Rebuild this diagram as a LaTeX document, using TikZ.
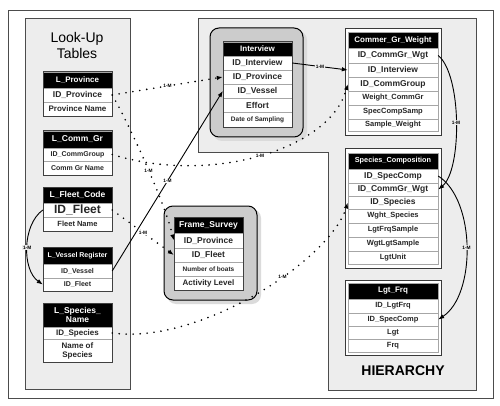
\documentclass[tikz,border=0pt]{standalone}
\usepackage{fontspec}
\setmainfont{Liberation Sans}
\usetikzlibrary{arrows.meta}
\newcommand\fsz[1]{\fontsize{#1}{#1}\selectfont}
\begin{document}
\begin{tikzpicture}[x=1pt,y=-1pt,
  panel/.style={fill=gray!14,draw=gray!60!black,line width=0.6pt},
  hd/.style={fill=black,draw=gray!70,text=white,inner sep=0pt,font=\bfseries\fsz{8}},
  cl/.style={fill=white,draw=gray!70,inner sep=0pt,text=black!85,font=\bfseries\fsz{7.5}},
  lw/.style={minimum width=69pt},
  rw/.style={minimum width=90pt},
  tbord/.style={draw=gray!50!black,line width=0.6pt},
  rframe/.style={draw=gray!45!black,line width=0.9pt,fill=white},
  grp/.style={fill=gray!40,draw=black,line width=1pt,rounded corners=9pt},
  shd/.style={fill=gray!28,rounded corners=9pt},
  dots/.style={line width=1.8pt,dash pattern=on 0pt off 7pt,line cap=round},
  sol/.style={line width=0.9pt},
  tip/.style={-{Latex[length=6pt,width=4.5pt]}},
  lab/.style={font=\bfseries\fsz{4.8},inner sep=0.6pt,text=black}
]
\useasboundingbox (0,0) rectangle (500,406);
% outer frame
\draw[draw=gray!60!black,line width=0.7pt] (8,10) rectangle (493,398);
% panels
\draw[panel] (25,18) rectangle (130,389);
\draw[panel] (198,18) -- (476,18) -- (476,390) -- (328,390) -- (328,152) -- (198,152) -- cycle;
\node[font=\fsz{14},align=center,inner sep=0pt] (lut) at (77,45) {Look-Up\\[2pt]Tables};
\node[font=\bfseries\fsz{14},inner sep=0pt] (hier) at (403,371) {HIERARCHY};

% group boxes
\fill[shd] (213,31) rectangle (307,141);
\draw[grp] (210,28) rectangle (303,137);
\fill[shd] (167,209) rectangle (261,304);
\draw[grp] (164,206) rectangle (257,300);

% ---- left tables ----
\node[hd,lw,minimum height=16pt] (lph) at (77.5,80) {L\_Province};
\node[cl,lw,minimum height=14pt,font=\bfseries\fsz{8.5}] (lpid) at (77.5,95) {ID\_Province};
\node[cl,lw,minimum height=14pt,font=\bfseries\fsz{8}] (lpnm) at (77.5,109) {Province Name};
\draw[tbord] (lph.north west) rectangle (lpnm.south east);

\node[hd,lw,minimum height=17pt,font=\bfseries\fsz{8.5}] (lch) at (77.5,139.5) {L\_Comm\_Gr};
\node[cl,lw,minimum height=13pt,font=\bfseries\fsz{7}] (lcgid) at (77.5,154.5) {ID\_CommGroup};
\node[cl,lw,minimum height=14pt,font=\bfseries\fsz{7}] (lcgnm) at (77.5,168) {Comm Gr Name};
\draw[tbord] (lch.north west) rectangle (lcgnm.south east);

\node[hd,lw,minimum height=16pt,font=\bfseries\fsz{8.5}] (lfh) at (77.5,195) {L\_Fleet\_Code};
\node[cl,lw,minimum height=14pt,font=\bfseries\fsz{12}] (lfid) at (77.5,210) {ID\_Fleet};
\node[cl,lw,minimum height=14pt,font=\bfseries\fsz{7.5}] (lfnm) at (77.5,224) {Fleet Name};
\draw[tbord] (lfh.north west) rectangle (lfnm.south east);

\node[hd,lw,minimum height=17pt,font=\bfseries\fsz{7}] (lvh) at (77.5,255.5) {L\_Vessel Register};
\node[cl,lw,minimum height=14pt,font=\bfseries\fsz{7}] (lvves) at (77.5,271) {ID\_Vessel};
\node[cl,lw,minimum height=13pt,font=\bfseries\fsz{7}] (lvfleet) at (77.5,284.5) {ID\_Fleet};
\draw[tbord] (lvh.north west) rectangle (lvfleet.south east);

\node[hd,lw,minimum height=24pt,align=center,font=\bfseries\fsz{8.5}] (lsh) at (77.5,315) {L\_Species\_\\[1pt]Name};
\node[cl,lw,minimum height=12pt,font=\bfseries\fsz{8}] (lsid) at (77.5,333) {ID\_Species};
\node[cl,lw,minimum height=23pt,align=center,font=\bfseries\fsz{8}] (lsnm) at (77.5,350.5) {Name of\\[1pt]Species};
\draw[tbord] (lsh.north west) rectangle (lsnm.south east);

% ---- Interview ----
\node[hd,lw,minimum height=14pt] (ivh) at (257.5,49) {Interview};
\node[cl,lw,minimum height=14pt,font=\bfseries\fsz{8.5}] (ivid) at (257.5,63) {ID\_Interview};
\node[cl,lw,minimum height=14pt,font=\bfseries\fsz{8.5}] (ivprov) at (257.5,77) {ID\_Province};
\node[cl,lw,minimum height=14pt,font=\bfseries\fsz{8.5}] (ivves) at (257.5,91) {ID\_Vessel};
\node[cl,lw,minimum height=14pt,font=\bfseries\fsz{8.5}] (iveff) at (257.5,105) {Effort};
\node[cl,lw,minimum height=15pt,font=\bfseries\fsz{6.5}] (ivdate) at (257.5,119.5) {Date of Sampling};
\draw[tbord] (ivh.north west) rectangle (ivdate.south east);

% ---- Frame_Survey ----
\node[hd,lw,minimum height=16pt,font=\bfseries\fsz{8.5}] (fsh) at (208.5,225) {Frame\_Survey};
\node[cl,lw,minimum height=15pt,font=\bfseries\fsz{8.5}] (fsprov) at (208.5,240.5) {ID\_Province};
\node[cl,lw,minimum height=14pt,font=\bfseries\fsz{8.5}] (fsfleet) at (208.5,255) {ID\_Fleet};
\node[cl,lw,minimum height=14pt,font=\bfseries\fsz{6.5}] (fsnum) at (208.5,269) {Number of boats};
\node[cl,lw,minimum height=14pt,font=\bfseries\fsz{8}] (fsact) at (208.5,283) {Activity Level};
\draw[tbord] (fsh.north west) rectangle (fsact.south east);

% ---- Commer_Gr_Weight ----
\draw[rframe] (345,28) rectangle (441,135);
\node[hd,rw,minimum height=16pt] (cgh) at (393,40) {Commer\_Gr\_Weight};
\node[cl,rw,minimum height=15pt,font=\bfseries\fsz{8.5}] (cgwid) at (393,55.5) {ID\_CommGr\_Wgt};
\node[cl,rw,minimum height=14pt,font=\bfseries\fsz{8.5}] (cgwiv) at (393,70) {ID\_Interview};
\node[cl,rw,minimum height=14pt,font=\bfseries\fsz{8.5}] (cgwcg) at (393,84) {ID\_CommGroup};
\node[cl,rw,minimum height=14pt] (cgwwc) at (393,98) {Weight\_CommGr};
\node[cl,rw,minimum height=14pt] (cgwsc) at (393,112) {SpecCompSamp};
\node[cl,rw,minimum height=12pt] (cgwsw) at (393,125) {Sample\_Weight};

% ---- Species_Composition ----
\draw[rframe] (345,148) rectangle (441,268);
\node[hd,rw,minimum height=16pt,font=\bfseries\fsz{7.3}] (sch) at (393,161) {Species\_Composition};
\node[cl,rw,minimum height=14pt,font=\bfseries\fsz{8.5}] (scid) at (393,176) {ID\_SpecComp};
\node[cl,rw,minimum height=13pt,font=\bfseries\fsz{8.5}] (scwgt) at (393,189.5) {ID\_CommGr\_Wgt};
\node[cl,rw,minimum height=13pt,font=\bfseries\fsz{8.5}] (scspec) at (393,202.5) {ID\_Species};
\node[cl,rw,minimum height=14pt] (scws) at (393,216) {Wght\_Species};
\node[cl,rw,minimum height=14pt] (sclfs) at (393,230) {LgtFrqSample};
\node[cl,rw,minimum height=14pt] (scwls) at (393,244) {WgtLgtSample};
\node[cl,rw,minimum height=13pt] (sclu) at (393,257.5) {LgtUnit};

% ---- Lgt_Frq ----
\draw[rframe] (345,280) rectangle (441,355);
\node[hd,rw,minimum height=16pt] (lfqh) at (393,291) {Lgt\_Frq};
\node[cl,rw,minimum height=14pt] (lfqid) at (393,306) {ID\_LgtFrq};
\node[cl,rw,minimum height=13pt] (lfspec) at (393,319.5) {ID\_SpecComp};
\node[cl,rw,minimum height=13pt] (lflgt) at (393,332.5) {Lgt};
\node[cl,rw,minimum height=13pt] (lffrq) at (393,345.5) {Frq};

% ---- connectors ----
\draw[dots,tip] (lpid.east) -- node[lab,fill=white] {1-M} (ivprov.west);
\draw[dots,tip] (lpid.east) .. controls (127,120) and (164,200) .. node[lab,fill=white,pos=0.55] {1-M} (fsprov.west);
\draw[dots,tip] (lcgid.east) .. controls (210,185) and (330,150) .. node[lab,fill=white] {1-M} (cgwcg.west);
\draw[dots,tip] (lfid.east) -- node[lab,fill=white] {1-M} (fsfleet.west);
\draw[sol,tip] (lvves.east) -- node[lab,fill=white] {1-M} (ivves.west);
\draw[sol,tip] (lfid.west) .. controls (22,225) and (22,270) .. node[lab,fill=gray!14] {1-M} (lvfleet.west);
\draw[dots,tip] (lsid.east) .. controls (200,345) and (330,260) .. node[lab,fill=white,pos=0.6] {1-M} (scspec.west);
\draw[sol,tip] (ivid.east) -- node[lab,fill=gray!14] {1-M} (cgwiv.west);
\draw[sol,tip] (cgwid.east) .. controls (462,75) and (462,170) .. node[lab,fill=gray!14] {1-M} (scwgt.east);
\draw[sol,tip] (scid.east) .. controls (476,200) and (476,295) .. node[lab,fill=gray!14] {1-M} (lfspec.east);
\end{tikzpicture}
\end{document}
